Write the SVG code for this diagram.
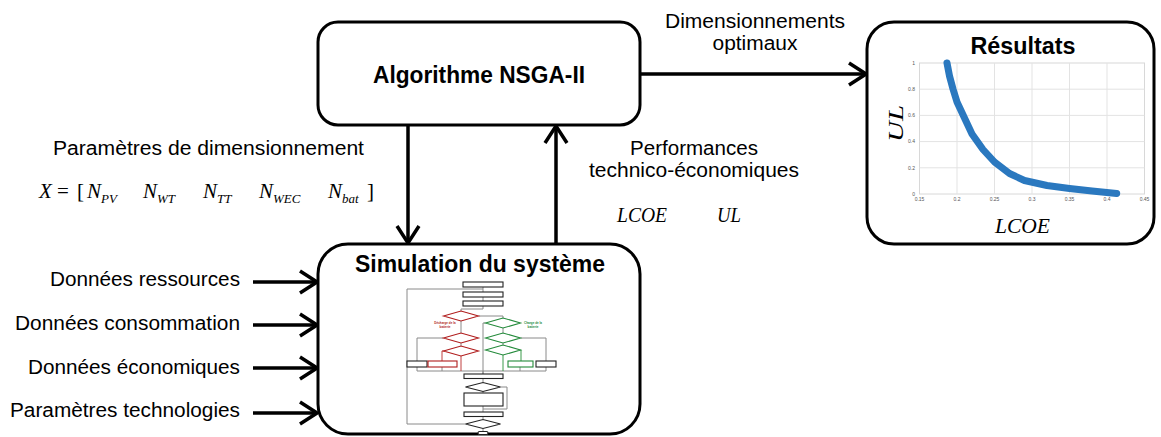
<svg xmlns="http://www.w3.org/2000/svg" width="1161" height="437" viewBox="0 0 1161 437">
<style>
.box{fill:#fff;stroke:#000;stroke-width:3}
.title{font-family:"Liberation Sans",Arial,sans-serif;font-weight:bold;font-size:23px;fill:#000;text-anchor:middle}
.lbl{font-family:"Liberation Sans",Arial,sans-serif;font-size:20px;fill:#000}
.math{font-family:"Liberation Serif","Times New Roman",serif;font-style:italic;font-size:21px;fill:#000}
.sub{font-family:"Liberation Serif","Times New Roman",serif;font-style:italic;font-size:13px;fill:#000}
.conn{fill:none;stroke:#000;stroke-width:3.5}
.grid{stroke:#e3e3e3;stroke-width:1;fill:none}
.tick{font-family:"Liberation Sans",Arial,sans-serif;font-size:5px;fill:#555}
.fg{fill:none;stroke:#8a8a8a;stroke-width:1}
.fk{fill:#fff;stroke:#222;stroke-width:1.1}
.fr{fill:#fff;stroke:#b01c1c;stroke-width:1.1}
.fgn{fill:#fff;stroke:#238a3a;stroke-width:1.1}
.lr{fill:none;stroke:#c04040;stroke-width:1}
.lgn{fill:none;stroke:#3a9a4a;stroke-width:1}
.tiny{font-family:"Liberation Sans",Arial,sans-serif;font-size:3px;font-weight:bold;text-anchor:middle}
</style>
<defs>
<marker id="arr" markerUnits="userSpaceOnUse" viewBox="0 0 22 26" refX="19" refY="13" markerWidth="22" markerHeight="26" orient="auto">
<path d="M2,2 L19,13 L2,24" fill="none" stroke="#000" stroke-width="3.5"/>
</marker>
</defs>

<g id="connectors">
<path class="conn" d="M640,74 L866,74" marker-end="url(#arr)"/>
<path class="conn" d="M408,125 L408,243" marker-end="url(#arr)"/>
<path class="conn" d="M556,244 L556,126" marker-end="url(#arr)"/>
<path class="conn" d="M253,282 L317,282" marker-end="url(#arr)"/>
<path class="conn" d="M253,325 L317,325" marker-end="url(#arr)"/>
<path class="conn" d="M253,368 L317,368" marker-end="url(#arr)"/>
<path class="conn" d="M253,413 L317,413" marker-end="url(#arr)"/>
</g>

<g id="nsga">
<rect class="box" x="318" y="22" width="322" height="103" rx="20"/>
<text class="title" x="479" y="83" textLength="212" lengthAdjust="spacingAndGlyphs">Algorithme NSGA-II</text>
</g>

<g id="labels">
<text class="lbl" x="755" y="28" text-anchor="middle" textLength="180" lengthAdjust="spacingAndGlyphs">Dimensionnements</text>
<text class="lbl" x="755" y="50" text-anchor="middle" textLength="85" lengthAdjust="spacingAndGlyphs">optimaux</text>
<text class="lbl" x="53" y="155" textLength="311" lengthAdjust="spacingAndGlyphs">Paramètres de dimensionnement</text>
<text class="lbl" x="694" y="155" text-anchor="middle" textLength="128" lengthAdjust="spacingAndGlyphs">Performances</text>
<text class="lbl" x="694" y="177" text-anchor="middle" textLength="210" lengthAdjust="spacingAndGlyphs">technico-économiques</text>
<text class="lbl" x="240" y="286" text-anchor="end" textLength="190" lengthAdjust="spacingAndGlyphs">Données ressources</text>
<text class="lbl" x="240" y="330" text-anchor="end" textLength="225" lengthAdjust="spacingAndGlyphs">Données consommation</text>
<text class="lbl" x="240" y="374" text-anchor="end" textLength="212" lengthAdjust="spacingAndGlyphs">Données économiques</text>
<text class="lbl" x="240" y="417" text-anchor="end" textLength="230" lengthAdjust="spacingAndGlyphs">Paramètres technologies</text>
</g>

<g id="formula">
<text class="math" x="39" y="198">X</text>
<text class="math" x="57" y="198" style="font-style:normal">=</text>
<text class="math" x="77" y="198" style="font-style:normal">[</text>
<text class="math" x="87" y="198">N</text><text class="sub" x="101" y="203">PV</text>
<text class="math" x="143" y="198">N</text><text class="sub" x="157" y="203">WT</text>
<text class="math" x="203" y="198">N</text><text class="sub" x="217" y="203">TT</text>
<text class="math" x="259" y="198">N</text><text class="sub" x="273" y="203">WEC</text>
<text class="math" x="328" y="198">N</text><text class="sub" x="342" y="203">bat</text>
<text class="math" x="367" y="198" style="font-style:normal">]</text>
<text class="math" x="617" y="222" font-size="19" textLength="50" lengthAdjust="spacingAndGlyphs">LCOE</text>
<text class="math" x="717" y="222" font-size="19" textLength="24" lengthAdjust="spacingAndGlyphs">UL</text>
</g>

<g id="resultats">
<rect class="box" x="867" y="22" width="287" height="222" rx="27"/>
<text class="title" x="1023" y="54" textLength="105" lengthAdjust="spacingAndGlyphs">Résultats</text>
<rect x="919.5" y="63" width="225" height="131" fill="#fff" stroke="#d8d8d8" stroke-width="1"/>
<path class="grid" d="M957,63V194M994.5,63V194M1032,63V194M1069.5,63V194M1107,63V194M919.5,89.2H1144.5M919.5,115.4H1144.5M919.5,141.6H1144.5M919.5,167.8H1144.5"/>
<g class="tick" text-anchor="end">
<text x="915" y="65">1</text><text x="915" y="91">0.8</text><text x="915" y="117">0.6</text><text x="915" y="143">0.4</text><text x="915" y="169.5">0.2</text><text x="915" y="195.5">0</text>
</g>
<g class="tick" text-anchor="middle">
<text x="919.5" y="201">0.15</text><text x="957" y="201">0.2</text><text x="994.5" y="201">0.25</text><text x="1032" y="201">0.3</text><text x="1069.5" y="201">0.35</text><text x="1107" y="201">0.4</text><text x="1144.5" y="201">0.45</text>
</g>
<polyline points="947,63 949.5,76 953,89 957,102 964.5,118 972,134 983,149.5 994.5,162 1009.5,173.5 1024.5,180.5 1047,185.5 1069.5,188.5 1092,191 1116.7,193.5" fill="none" stroke="#2a78bf" stroke-width="7" stroke-linecap="round" stroke-linejoin="round"/>
<text class="math" x="995" y="233" font-size="25" textLength="55" lengthAdjust="spacingAndGlyphs">LCOE</text>
<text class="math" font-size="25" transform="translate(903,142) rotate(-90)" textLength="37" lengthAdjust="spacingAndGlyphs">UL</text>
</g>

<g id="simulation">
<rect class="box" x="318" y="244" width="322" height="190" rx="30"/>
<text class="title" x="480" y="272" textLength="250" lengthAdjust="spacingAndGlyphs">Simulation du système</text>
<g id="flowchart">
<path class="fg" d="M483,287V292M483,297V301M483,306V309H461V311M478.5,316H503V318M461,321V333M461,343V346M443.5,338H417V361M503,328V333M503,343V345M520.5,338H546V361M485.5,323H483V374M417,367V371M442,367V371M520,367V371M546,367V371M417,371H546M483,371V374M483,378.5V382.5M483,391.5V393M500.5,387H507V409H483M483,406V412M483,416.5V419.5M465.5,424H407V289H483M483,428.5V432"/>
<path class="lr" d="M445,351H442V361M461,356V371"/>
<path class="lgn" d="M520.5,350H521V361M503,355V371"/>
<rect class="fk" x="463" y="282" width="40" height="5"/>
<rect class="fk" x="463" y="292" width="40" height="5"/>
<rect class="fk" x="463" y="301" width="40" height="5"/>
<polygon class="fr" points="443.5,316 461,311 478.5,316 461,321"/>
<polygon class="fr" points="443.5,338 461,333 478.5,338 461,343"/>
<polygon class="fr" points="443.5,351 461,346 478.5,351 461,356"/>
<polygon class="fgn" points="485.5,323 503,318 520.5,323 503,328"/>
<polygon class="fgn" points="485.5,338 503,333 520.5,338 503,343"/>
<polygon class="fgn" points="485.5,350 503,345 520.5,350 503,355"/>
<text class="tiny" x="445" y="324" fill="#b01c1c">Décharge de la</text>
<text class="tiny" x="445" y="327.5" fill="#b01c1c">batterie</text>
<text class="tiny" x="533" y="324" fill="#238a3a">Charge de la</text>
<text class="tiny" x="533" y="327.5" fill="#238a3a">batterie</text>
<rect class="fk" x="407" y="361" width="20" height="6"/>
<rect class="fr" x="428" y="361" width="29" height="6"/>
<rect class="fgn" x="508" y="361" width="25" height="6"/>
<rect class="fk" x="536" y="361" width="20" height="6"/>
<rect class="fk" x="464" y="374" width="39" height="4.5"/>
<polygon class="fk" points="465.5,387 483,382.5 500.5,387 483,391.5"/>
<rect class="fk" x="464" y="393" width="39" height="13"/>
<rect class="fk" x="464" y="412" width="39" height="4.5"/>
<polygon class="fk" points="465.5,424 483,419.5 500.5,424 483,428.5"/>
<rect class="fk" x="478" y="431.5" width="10" height="3" rx="1.5"/>
</g>
</g>
</svg>
